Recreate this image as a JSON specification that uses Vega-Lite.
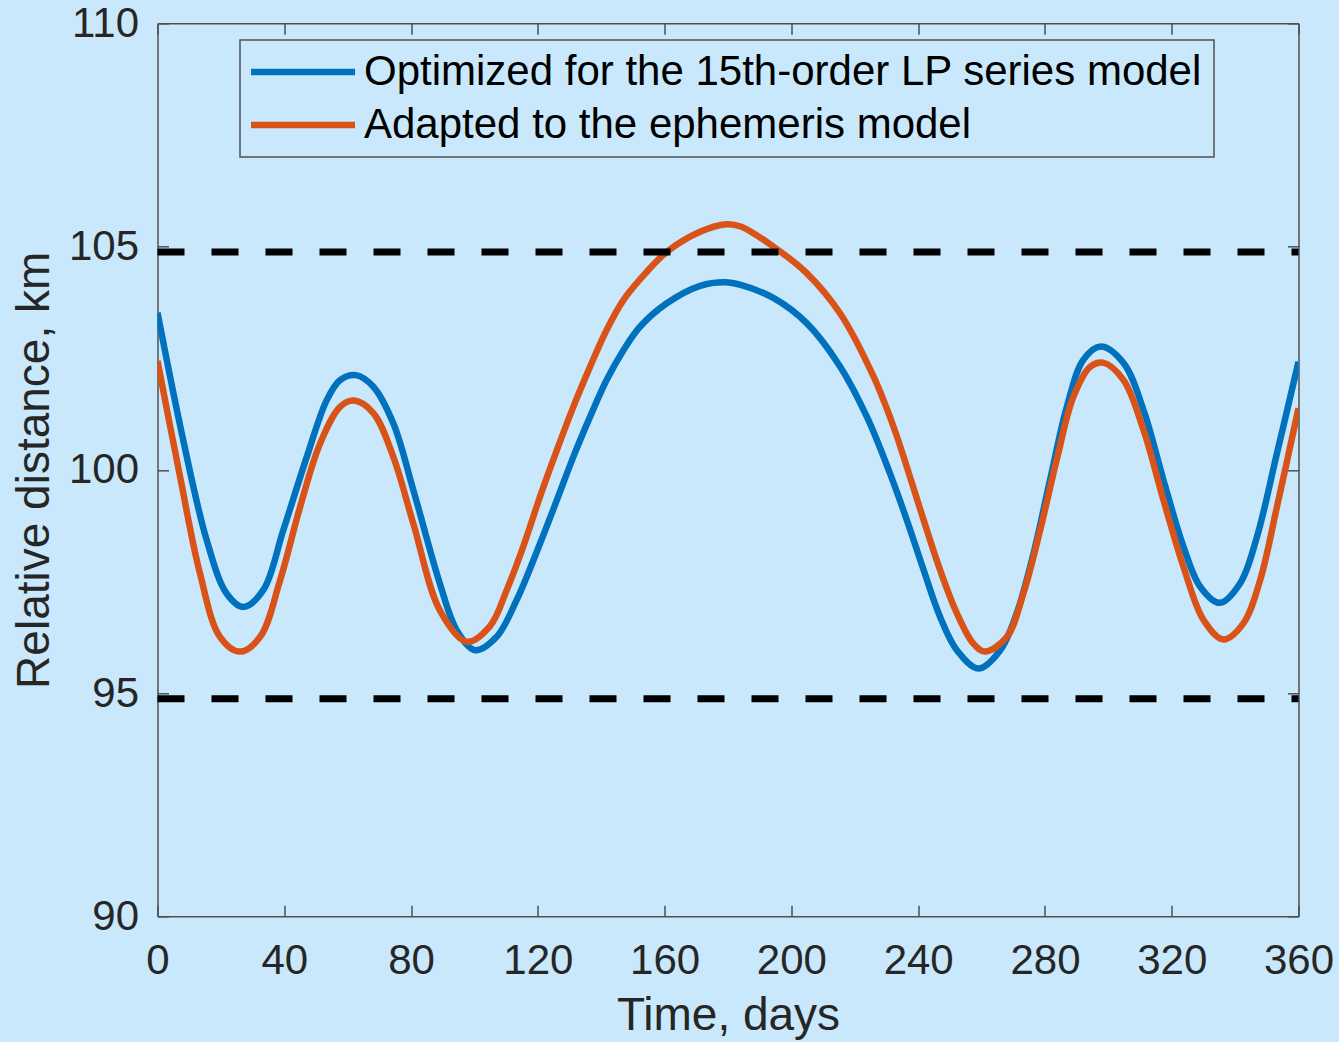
{
  "$schema": "https://vega.github.io/schema/vega-lite/v6.json",
  "autosize": {"type": "none"},
  "padding": {"left": 157.5, "top": 23.3, "right": 40.5, "bottom": 125.7},
  "width": 1141,
  "height": 893,
  "background": "#c9e8fc",
  "config": {
    "view": {"stroke": null},
    "font": "Liberation Sans",
    "axis": {
      "domainColor": "#505050",
      "domainWidth": 1.5,
      "tickColor": "#505050",
      "tickWidth": 1.5,
      "tickSize": -11,
      "labelFont": "Liberation Sans",
      "labelFontSize": 42,
      "labelColor": "#262626",
      "titleFont": "Liberation Sans",
      "titleFontSize": 46,
      "titleFontWeight": "normal",
      "titleColor": "#262626",
      "grid": false,
      "labelFlush": false,
      "labelOverlap": false
    },
    "legend": {
      "strokeWidth": 1.5
    }
  },
  "datasets": {
    "curves": [
      {"t": 0, "d": 103.52, "series": "Optimized for the 15th-order LP series model"},
      {"t": 8.1, "d": 100.67, "series": "Optimized for the 15th-order LP series model"},
      {"t": 15.5, "d": 98.43, "series": "Optimized for the 15th-order LP series model"},
      {"t": 21.8, "d": 97.23, "series": "Optimized for the 15th-order LP series model"},
      {"t": 27.1, "d": 96.93, "series": "Optimized for the 15th-order LP series model"},
      {"t": 33.4, "d": 97.31, "series": "Optimized for the 15th-order LP series model"},
      {"t": 39.7, "d": 98.65, "series": "Optimized for the 15th-order LP series model"},
      {"t": 47.1, "d": 100.29, "series": "Optimized for the 15th-order LP series model"},
      {"t": 53.4, "d": 101.56, "series": "Optimized for the 15th-order LP series model"},
      {"t": 57.6, "d": 102.01, "series": "Optimized for the 15th-order LP series model"},
      {"t": 62.6, "d": 102.12, "series": "Optimized for the 15th-order LP series model"},
      {"t": 68.1, "d": 101.86, "series": "Optimized for the 15th-order LP series model"},
      {"t": 74.4, "d": 101.04, "series": "Optimized for the 15th-order LP series model"},
      {"t": 80.7, "d": 99.55, "series": "Optimized for the 15th-order LP series model"},
      {"t": 89.1, "d": 97.45, "series": "Optimized for the 15th-order LP series model"},
      {"t": 94.4, "d": 96.41, "series": "Optimized for the 15th-order LP series model"},
      {"t": 100.2, "d": 95.96, "series": "Optimized for the 15th-order LP series model"},
      {"t": 107.0, "d": 96.26, "series": "Optimized for the 15th-order LP series model"},
      {"t": 113.3, "d": 97.08, "series": "Optimized for the 15th-order LP series model"},
      {"t": 120.7, "d": 98.35, "series": "Optimized for the 15th-order LP series model"},
      {"t": 126.0, "d": 99.32, "series": "Optimized for the 15th-order LP series model"},
      {"t": 131.2, "d": 100.29, "series": "Optimized for the 15th-order LP series model"},
      {"t": 136.5, "d": 101.19, "series": "Optimized for the 15th-order LP series model"},
      {"t": 141.7, "d": 102.01, "series": "Optimized for the 15th-order LP series model"},
      {"t": 147.0, "d": 102.68, "series": "Optimized for the 15th-order LP series model"},
      {"t": 152.3, "d": 103.21, "series": "Optimized for the 15th-order LP series model"},
      {"t": 160.7, "d": 103.73, "series": "Optimized for the 15th-order LP series model"},
      {"t": 171.2, "d": 104.12, "series": "Optimized for the 15th-order LP series model"},
      {"t": 179.1, "d": 104.2, "series": "Optimized for the 15th-order LP series model"},
      {"t": 184.0, "d": 104.14, "series": "Optimized for the 15th-order LP series model"},
      {"t": 194.3, "d": 103.85, "series": "Optimized for the 15th-order LP series model"},
      {"t": 204.9, "d": 103.28, "series": "Optimized for the 15th-order LP series model"},
      {"t": 215.4, "d": 102.31, "series": "Optimized for the 15th-order LP series model"},
      {"t": 223.8, "d": 101.19, "series": "Optimized for the 15th-order LP series model"},
      {"t": 231.1, "d": 99.92, "series": "Optimized for the 15th-order LP series model"},
      {"t": 236.4, "d": 98.88, "series": "Optimized for the 15th-order LP series model"},
      {"t": 241.7, "d": 97.76, "series": "Optimized for the 15th-order LP series model"},
      {"t": 246.9, "d": 96.71, "series": "Optimized for the 15th-order LP series model"},
      {"t": 252.2, "d": 95.96, "series": "Optimized for the 15th-order LP series model"},
      {"t": 259.0, "d": 95.55, "series": "Optimized for the 15th-order LP series model"},
      {"t": 265.9, "d": 95.96, "series": "Optimized for the 15th-order LP series model"},
      {"t": 271.1, "d": 96.79, "series": "Optimized for the 15th-order LP series model"},
      {"t": 276.4, "d": 98.13, "series": "Optimized for the 15th-order LP series model"},
      {"t": 281.6, "d": 99.77, "series": "Optimized for the 15th-order LP series model"},
      {"t": 286.9, "d": 101.41, "series": "Optimized for the 15th-order LP series model"},
      {"t": 292.1, "d": 102.46, "series": "Optimized for the 15th-order LP series model"},
      {"t": 297.6, "d": 102.76, "series": "Optimized for the 15th-order LP series model"},
      {"t": 304.8, "d": 102.39, "series": "Optimized for the 15th-order LP series model"},
      {"t": 311.1, "d": 101.34, "series": "Optimized for the 15th-order LP series model"},
      {"t": 317.4, "d": 99.77, "series": "Optimized for the 15th-order LP series model"},
      {"t": 323.7, "d": 98.28, "series": "Optimized for the 15th-order LP series model"},
      {"t": 329.0, "d": 97.38, "series": "Optimized for the 15th-order LP series model"},
      {"t": 335.1, "d": 97.02, "series": "Optimized for the 15th-order LP series model"},
      {"t": 341.6, "d": 97.46, "series": "Optimized for the 15th-order LP series model"},
      {"t": 346.9, "d": 98.5, "series": "Optimized for the 15th-order LP series model"},
      {"t": 353.2, "d": 100.37, "series": "Optimized for the 15th-order LP series model"},
      {"t": 360, "d": 102.42, "series": "Optimized for the 15th-order LP series model"},
      {"t": 0, "d": 102.44, "series": "Adapted to the ephemeris model"},
      {"t": 7.1, "d": 99.85, "series": "Adapted to the ephemeris model"},
      {"t": 13.4, "d": 97.68, "series": "Adapted to the ephemeris model"},
      {"t": 19.7, "d": 96.26, "series": "Adapted to the ephemeris model"},
      {"t": 26.0, "d": 95.93, "series": "Adapted to the ephemeris model"},
      {"t": 32.4, "d": 96.26, "series": "Adapted to the ephemeris model"},
      {"t": 38.7, "d": 97.53, "series": "Adapted to the ephemeris model"},
      {"t": 45.0, "d": 99.17, "series": "Adapted to the ephemeris model"},
      {"t": 51.3, "d": 100.59, "series": "Adapted to the ephemeris model"},
      {"t": 57.6, "d": 101.41, "series": "Adapted to the ephemeris model"},
      {"t": 62.0, "d": 101.55, "series": "Adapted to the ephemeris model"},
      {"t": 68.1, "d": 101.27, "series": "Adapted to the ephemeris model"},
      {"t": 74.4, "d": 100.29, "series": "Adapted to the ephemeris model"},
      {"t": 80.7, "d": 98.8, "series": "Adapted to the ephemeris model"},
      {"t": 89.1, "d": 96.85, "series": "Adapted to the ephemeris model"},
      {"t": 97.6, "d": 96.15, "series": "Adapted to the ephemeris model"},
      {"t": 104.9, "d": 96.5, "series": "Adapted to the ephemeris model"},
      {"t": 110.2, "d": 97.31, "series": "Adapted to the ephemeris model"},
      {"t": 115.4, "d": 98.28, "series": "Adapted to the ephemeris model"},
      {"t": 120.7, "d": 99.4, "series": "Adapted to the ephemeris model"},
      {"t": 126.0, "d": 100.44, "series": "Adapted to the ephemeris model"},
      {"t": 131.2, "d": 101.41, "series": "Adapted to the ephemeris model"},
      {"t": 136.5, "d": 102.31, "series": "Adapted to the ephemeris model"},
      {"t": 141.7, "d": 103.13, "series": "Adapted to the ephemeris model"},
      {"t": 147.0, "d": 103.8, "series": "Adapted to the ephemeris model"},
      {"t": 152.3, "d": 104.27, "series": "Adapted to the ephemeris model"},
      {"t": 160.7, "d": 104.88, "series": "Adapted to the ephemeris model"},
      {"t": 171.2, "d": 105.33, "series": "Adapted to the ephemeris model"},
      {"t": 179.4, "d": 105.5, "series": "Adapted to the ephemeris model"},
      {"t": 184.0, "d": 105.45, "series": "Adapted to the ephemeris model"},
      {"t": 194.3, "d": 105.0, "series": "Adapted to the ephemeris model"},
      {"t": 204.9, "d": 104.4, "series": "Adapted to the ephemeris model"},
      {"t": 215.4, "d": 103.5, "series": "Adapted to the ephemeris model"},
      {"t": 225.9, "d": 102.09, "series": "Adapted to the ephemeris model"},
      {"t": 232.2, "d": 100.97, "series": "Adapted to the ephemeris model"},
      {"t": 236.4, "d": 100.07, "series": "Adapted to the ephemeris model"},
      {"t": 241.7, "d": 98.88, "series": "Adapted to the ephemeris model"},
      {"t": 246.9, "d": 97.76, "series": "Adapted to the ephemeris model"},
      {"t": 252.2, "d": 96.79, "series": "Adapted to the ephemeris model"},
      {"t": 257.4, "d": 96.11, "series": "Adapted to the ephemeris model"},
      {"t": 261.1, "d": 95.93, "series": "Adapted to the ephemeris model"},
      {"t": 268.0, "d": 96.26, "series": "Adapted to the ephemeris model"},
      {"t": 273.2, "d": 97.23, "series": "Adapted to the ephemeris model"},
      {"t": 278.5, "d": 98.65, "series": "Adapted to the ephemeris model"},
      {"t": 283.7, "d": 100.22, "series": "Adapted to the ephemeris model"},
      {"t": 289.0, "d": 101.64, "series": "Adapted to the ephemeris model"},
      {"t": 294.3, "d": 102.31, "series": "Adapted to the ephemeris model"},
      {"t": 298.3, "d": 102.4, "series": "Adapted to the ephemeris model"},
      {"t": 304.8, "d": 102.01, "series": "Adapted to the ephemeris model"},
      {"t": 311.1, "d": 100.89, "series": "Adapted to the ephemeris model"},
      {"t": 317.4, "d": 99.32, "series": "Adapted to the ephemeris model"},
      {"t": 323.7, "d": 97.83, "series": "Adapted to the ephemeris model"},
      {"t": 330.0, "d": 96.64, "series": "Adapted to the ephemeris model"},
      {"t": 336.3, "d": 96.2, "series": "Adapted to the ephemeris model"},
      {"t": 342.6, "d": 96.56, "series": "Adapted to the ephemeris model"},
      {"t": 347.9, "d": 97.53, "series": "Adapted to the ephemeris model"},
      {"t": 353.2, "d": 99.17, "series": "Adapted to the ephemeris model"},
      {"t": 360, "d": 101.38, "series": "Adapted to the ephemeris model"}
    ],
    "limits": [
      {"level": 104.88},
      {"level": 94.87}
    ]
  },
  "layer": [
    {
      "data": {"name": "curves"},
      "mark": {"type": "line", "strokeWidth": 6.5, "interpolate": "catmull-rom", "clip": true},
      "encoding": {
        "x": {
          "field": "t",
          "type": "quantitative",
          "scale": {"domain": [0, 360], "nice": false, "zero": false},
          "axis": {"orient": "bottom", "values": [0, 40, 80, 120, 160, 200, 240, 280, 320, 360], "title": "Time, days", "labelPadding": 35, "titlePadding": 12}
        },
        "y": {
          "field": "d",
          "type": "quantitative",
          "scale": {"domain": [90, 110], "nice": false, "zero": false},
          "axis": {"orient": "left", "values": [90, 95, 100, 105, 110], "title": "Relative distance, km", "labelPadding": 30, "titlePadding": 10}
        },
        "color": {
          "field": "series",
          "type": "nominal",
          "sort": ["Optimized for the 15th-order LP series model", "Adapted to the ephemeris model"],
          "scale": {"domain": ["Optimized for the 15th-order LP series model", "Adapted to the ephemeris model"], "range": ["#0072BD", "#D95319"]},
          "legend": {
            "title": null,
            "orient": "none",
            "legendX": 82.5,
            "legendY": 16.7,
            "symbolType": "M-3,0H3",
            "symbolSize": 1202,
            "symbolStrokeWidth": 6.5,
            "symbolOffset": 31,
            "symbolFillColor": "transparent",
            "labelFontSize": 42,
            "labelFont": "Liberation Sans",
            "labelColor": "#000000",
            "labelOffset": 40,
            "labelLimit": 1200,
            "rowPadding": 11,
            "padding": 11,
            "strokeColor": "#505050",
            "fillColor": "#c9e8fc"
          }
        }
      }
    },
    {
      "data": {"name": "limits"},
      "mark": {"type": "rule", "color": "#000000", "strokeWidth": 7, "strokeDash": [27, 27]},
      "encoding": {
        "y": {
          "field": "level",
          "type": "quantitative",
          "scale": {"domain": [90, 110], "nice": false, "zero": false},
          "axis": {"orient": "right", "values": [90, 95, 100, 105, 110], "labels": false, "title": null}
        },
        "x": {
          "datum": 0,
          "type": "quantitative",
          "scale": {"domain": [0, 360], "nice": false, "zero": false},
          "axis": {"orient": "top", "values": [0, 40, 80, 120, 160, 200, 240, 280, 320, 360], "labels": false, "title": null}
        },
        "x2": {"datum": 360}
      }
    }
  ],
  "resolve": {"axis": {"x": "independent", "y": "independent"}}
}
